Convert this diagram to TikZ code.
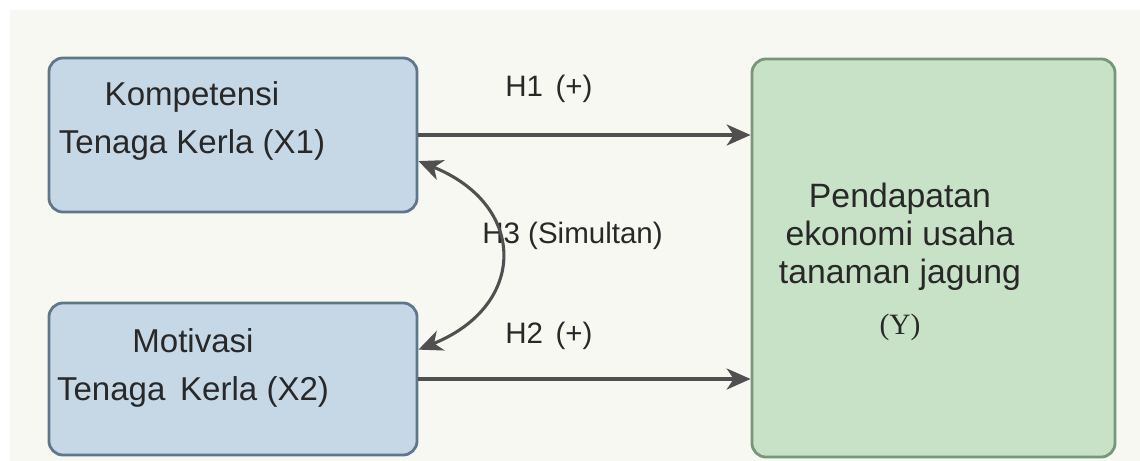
\documentclass[tikz,border=0pt]{standalone}
\usepackage{fontspec}
\setmainfont{Liberation Sans}
\newfontfamily\yfont{Liberation Serif}
\usetikzlibrary{arrows.meta}
\definecolor{bgoff}{RGB}{248,248,243}
\definecolor{xfill}{RGB}{198,216,230}
\definecolor{xline}{RGB}{96,118,138}
\definecolor{yfill}{RGB}{200,226,200}
\definecolor{yline}{RGB}{120,150,120}
\definecolor{arc}{RGB}{80,80,80}
\definecolor{ink}{RGB}{40,40,40}
\newcommand{\boxfont}{\fontsize{23.5}{34}\selectfont}
\newcommand{\yboxfont}{\fontsize{24}{27}\selectfont}
\newcommand{\hypfont}{\fontsize{21}{25}\selectfont}

\begin{document}
\begin{tikzpicture}
    [
        x=0.025cm, y=-0.025cm,
        xbox/.style  ={rectangle, draw=xline, fill=xfill, line width=2pt,
                        rounded corners=10pt, minimum width=9.2cm},
        ybox/.style  ={rectangle, draw=yline, fill=yfill, line width=2pt,
                        rounded corners=10pt, minimum width=9.075cm,
                        minimum height=9.95cm},
        btext/.style ={align=center, text=ink, inner sep=0pt, font=\boxfont},
        htext/.style ={anchor=base west, text=ink, inner sep=0pt, font=\hypfont},
        oarc/.style  ={-{Stealth[length=17pt, width=15pt, inset=5pt]},
                        draw=arc, line width=2.2pt},
        darc/.style  ={{Stealth[length=17pt, width=15pt, inset=5pt]}-{Stealth[length=17pt, width=15pt, inset=5pt]},
                        draw=arc, line width=2.2pt}
    ]

    \fill[white] (0,0) rectangle (1140,461);
    \fill[bgoff] (10,10) rectangle (1140,461);

    \node[xbox, minimum height=3.85cm]  (x1)  at (233,135)   {};
    \node[xbox, minimum height=3.8cm]   (x2)  at (233,379)   {};
    \node[ybox]                         (y)   at (933.5,258) {};

    \node[btext]    (x1t)   at (192,121)    {Kompetensi\\Tenaga Kerla (X1)};
    \node[btext]    (x2t)   at (193,368)    {Motivasi\\Tenaga\hspace{4pt} Kerla (X2)};
    \node[btext, font=\yboxfont] (yt) at (900,262)
        {Pendapatan\\ekonomi usaha\\tanaman jagung\\[9pt]{\yfont\fontsize{21}{25}\selectfont(Y)}};

    \node[htext]    (h1)    at (505,96)     {H1\hspace{9pt}(+)};
    \node[htext]    (h2)    at (505,343)    {H2\hspace{9pt}(+)};
    \node[htext]    (h3)    at (482,243)    {H3 (Simultan)};

    \draw[oarc]     (x1.-0.6) -- (x1.-0.6 -| y.west);
    \draw[oarc]     (x2.-0.9) -- (x2.-0.9 -| y.west);
    \draw[darc]     (x2.9.6) to[out=22, in=-22, looseness=1.6] (x1.-8.3);

\end{tikzpicture}
\end{document}
